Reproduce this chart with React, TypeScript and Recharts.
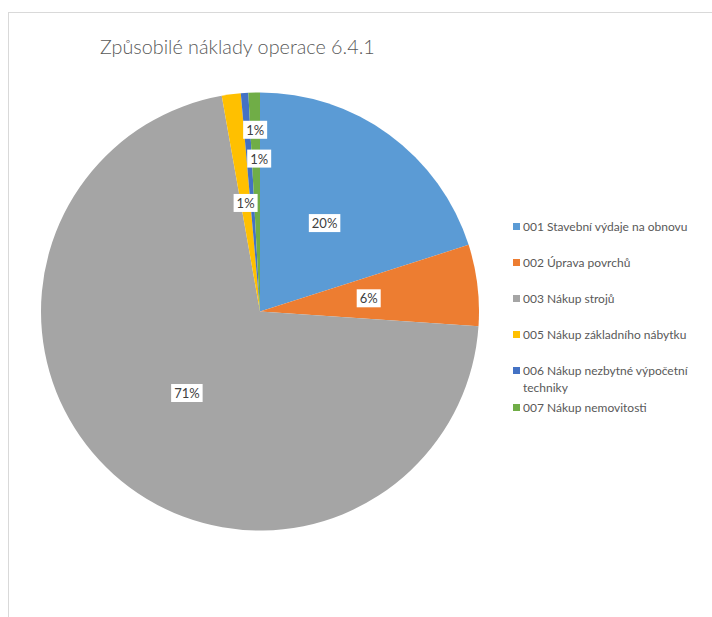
import { PieChart, Pie, Cell, Legend } from 'recharts';

const categories = [
  '001 Stavební výdaje na obnovu',
  '002 Úprava povrchů',
  '003 Nákup strojů',
  '005 Nákup základního nábytku',
  '006 Nákup nezbytné výpočetní techniky',
  '007 Nákup nemovitosti',
];
const shares = [20.1, 6.0, 71.2, 1.4, 0.55, 0.85];
const colors = ['#5B9BD5', '#ED7D31', '#A5A5A5', '#FFC000', '#4472C4', '#70AD47'];
const title = 'Způsobilé náklady operace 6.4.1';

const data = categories.map((name, i) => ({ name, value: shares[i] }));
const total = shares.reduce((a, b) => a + b, 0);

const FONT = 'Lato, "Open Sans", sans-serif';
const OUTER = 219;
// label distance from centre (share of radius) and sideways nudge, so the tiny slices don't collide
const labelPos = [0.5, 0.5, 0.5, 0.5, 0.7, 0.83];
const labelNudge = [0, 0, 0, 0, 10, 0];

const RADIAN = Math.PI / 180;

function renderLabel(props: any) {
  const { cx, cy, midAngle, index, value } = props;
  const r = OUTER * labelPos[index];
  const x = cx + r * Math.cos(-midAngle * RADIAN) + labelNudge[index];
  const y = cy + r * Math.sin(-midAngle * RADIAN);
  const text = `${Math.round((value / total) * 100)}%`;
  const w = text.length * 7.5 + 9;
  return (
    <g key={`lbl-${index}`}>
      <rect x={x - w / 2} y={y - 9} width={w} height={18} fill="#fff" />
      <text
        x={x}
        y={y}
        textAnchor="middle"
        dominantBaseline="central"
        fontFamily={FONT}
        fontSize={13}
        fill="#404040"
      >
        {text}
      </text>
    </g>
  );
}

function LegendList() {
  return (
    <div style={{ fontFamily: FONT, fontSize: 12, color: '#595959', width: 186 }}>
      {categories.map((c, i) => (
        <div
          key={c}
          style={{
            display: 'flex',
            alignItems: 'flex-start',
            lineHeight: '17px',
            marginBottom: i === 4 ? 3 : 19,
          }}
        >
          <span
            style={{
              width: 7,
              height: 7,
              background: colors[i],
              marginTop: 5,
              marginRight: 3,
              flexShrink: 0,
            }}
          />
          <span>{c}</span>
        </div>
      ))}
    </div>
  );
}

export default function App() {
  return (
    <div
      style={{
        position: 'absolute',
        left: 0,
        top: 0,
        width: 712,
        height: 617,
        overflow: 'hidden',
        background: '#fff',
      }}
    >
      <div
        style={{
          position: 'absolute',
          left: 8,
          top: 12,
          width: 760,
          height: 660,
          border: '1px solid #d9d9d9',
        }}
      >
        <div
          style={{
            position: 'absolute',
            left: 91,
            top: 21,
            fontFamily: FONT,
            fontSize: 19.8,
            fontWeight: 300,
            color: '#595959',
            whiteSpace: 'nowrap',
          }}
        >
          {title}
        </div>
        <PieChart width={704} height={605} margin={{ top: 0, right: 0, bottom: 0, left: 0 }}>
          <Pie
            data={data}
            dataKey="value"
            nameKey="name"
            cx={251}
            cy={298.5}
            outerRadius={OUTER}
            startAngle={90}
            endAngle={-270}
            stroke="none"
            label={renderLabel}
            labelLine={false}
            isAnimationActive={false}
          >
            {data.map((d, i) => (
              <Cell key={d.name} fill={colors[i]} />
            ))}
          </Pie>
          <Legend
            layout="vertical"
            content={() => <LegendList />}
            wrapperStyle={{ position: 'absolute', left: 504, top: 205, width: 190 }}
          />
        </PieChart>
      </div>
    </div>
  );
}
